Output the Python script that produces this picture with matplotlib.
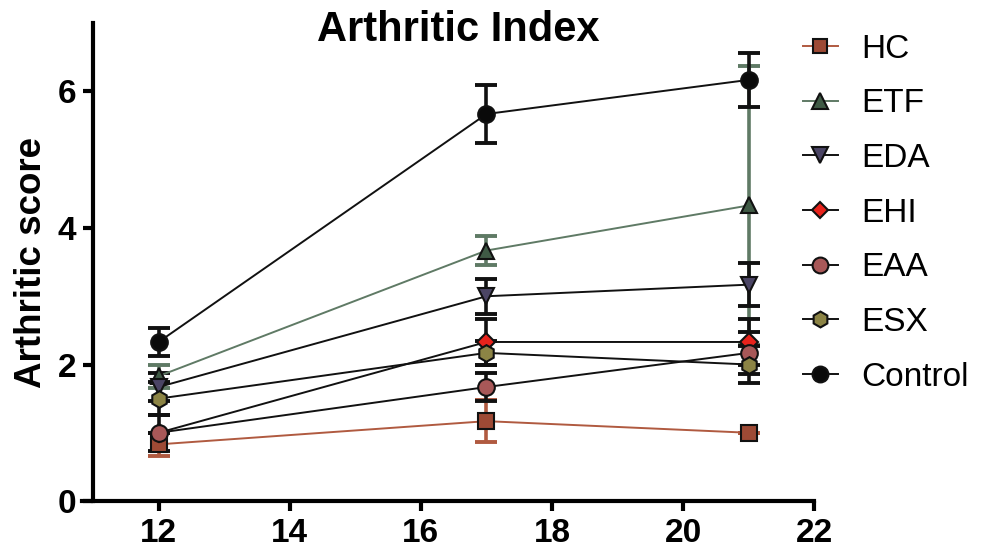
import matplotlib
matplotlib.use("Agg")
import matplotlib.pyplot as plt
from matplotlib.lines import Line2D

plt.rcParams['font.family'] = ['Liberation Sans', 'DejaVu Sans']

days = [12, 17, 21]

groups = ["HC", "ETF", "EDA", "EHI", "EAA", "ESX", "Control"]
means = {
    "HC":      [0.83, 1.17, 1.00],
    "ETF":     [1.83, 3.67, 4.33],
    "EDA":     [1.67, 3.00, 3.17],
    "EHI":     [1.00, 2.33, 2.33],
    "EAA":     [1.00, 1.67, 2.17],
    "ESX":     [1.50, 2.17, 2.00],
    "Control": [2.33, 5.67, 6.17],
}
sems = {
    "HC":      [0.17, 0.31, 0.00],
    "ETF":     [0.17, 0.21, 2.04],
    "EDA":     [0.21, 0.26, 0.31],
    "EHI":     [0.00, 0.33, 0.33],
    "EAA":     [0.26, 0.21, 0.31],
    "ESX":     [0.24, 0.17, 0.27],
    "Control": [0.21, 0.42, 0.40],
}

styles = {
    "HC":      dict(marker="s", face="#9e4a35", line="#b05a40", err="#b05a40", ms=11),
    "ETF":     dict(marker="^", face="#3f5a45", line="#5f7a65", err="#5f7a65", ms=12),
    "EDA":     dict(marker="v", face="#4b4565", line="#111111", err="#111111", ms=12),
    "EHI":     dict(marker="D", face="#e8231c", line="#111111", err="#111111", ms=9),
    "EAA":     dict(marker="o", face="#a85858", line="#111111", err="#111111", ms=12),
    "ESX":     dict(marker="h", face="#8c8445", line="#111111", err="#111111", ms=12),
    "Control": dict(marker="o", face="#0a0a0a", line="#111111", err="#111111", ms=12),
}

fig = plt.figure(figsize=(9.87, 5.53), dpi=100)
ax = fig.add_axes([0.083, 0.094, 0.742, 0.864])

handles = []
for i, g in enumerate(groups):
    st = styles[g]
    ax.errorbar(days, means[g], yerr=sems[g], fmt="none", ecolor=st["err"],
                elinewidth=2.6, capsize=8, capthick=2.8, zorder=2 + i * 0.1)
    ax.plot(days, means[g], color=st["line"], lw=1.4, marker=st["marker"],
            markersize=st["ms"], markerfacecolor=st["face"],
            markeredgecolor="#111111", markeredgewidth=1.5, zorder=3 + i * 0.1)
    handles.append(Line2D([0], [0], color=st["line"], lw=1.4, marker=st["marker"],
                          markersize=st["ms"] * 0.95, markerfacecolor=st["face"],
                          markeredgecolor="#111111", markeredgewidth=1.5))

ax.set_xlim(10.83, 22)
ax.set_ylim(0, 7)
ax.spines['left'].set_position(('data', 11))
ax.spines['left'].set_bounds(0, 7)
ax.spines['bottom'].set_bounds(10.83, 22)
for s in ("top", "right"):
    ax.spines[s].set_visible(False)
for s in ("left", "bottom"):
    ax.spines[s].set_linewidth(3)
    ax.spines[s].set_capstyle("projecting")

ax.set_xticks([12, 14, 16, 18, 20, 22])
ax.set_yticks([0, 2, 4, 6])
ax.tick_params(direction="out", length=7, width=3, labelsize=24, pad=5)
for lab in ax.get_xticklabels() + ax.get_yticklabels():
    lab.set_fontweight("bold")

ax.set_ylabel("Arthritic score", fontsize=26.5, fontweight="bold", labelpad=6)
fig.text(0.464, 0.926, "Arthritic Index", fontsize=30, fontweight="bold",
         ha="center", va="baseline")

fig.legend(handles, groups, loc="upper left", bbox_to_anchor=(0.800, 0.963),
           frameon=False, fontsize=24, handlelength=1.05, handletextpad=0.7,
           labelspacing=0.71, borderaxespad=0)

fig.savefig("out.png", dpi=100)
